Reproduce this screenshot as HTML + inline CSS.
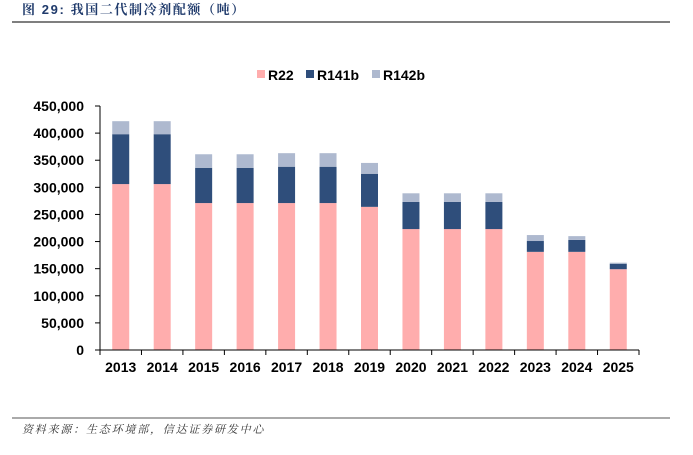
<!DOCTYPE html>
<html><head><meta charset="utf-8"><style>
body{margin:0;background:#fff;width:693px;height:450px;overflow:hidden;font-family:"Liberation Sans","Noto Sans CJK SC",sans-serif}
</style></head><body>
<svg width="693" height="450">
<text x="22" y="14" font-size="13" font-weight="bold" fill="#1f3a6b" letter-spacing="1.6" font-family="Liberation Sans,Noto Serif CJK SC,serif">图 29:  我国二代制冷剂配额（吨）</text>
<line x1="12" y1="22" x2="670" y2="22" stroke="#555" stroke-width="1.5"/>
<g font-size="14" font-weight="bold">
<rect x="257" y="70" width="8" height="8" fill="#ffadad"/><text x="268" y="80">R22</text>
<rect x="306" y="70" width="8" height="8" fill="#2f4e7b"/><text x="317" y="80">R141b</text>
<rect x="372" y="70" width="8" height="8" fill="#aeb9cf"/><text x="383" y="80">R142b</text>
</g>
<g id="plot"></g>
<line x1="12" y1="418" x2="670" y2="418" stroke="#555" stroke-width="1"/>
<text x="22" y="433" font-size="11" font-style="italic" fill="#333" letter-spacing="1.8" font-family="Liberation Serif,Noto Serif CJK SC,serif">资料来源：生态环境部，信达证券研发中心</text>
</svg>
<script>
const categories=["2013","2014","2015","2016","2017","2018","2019","2020","2021","2022","2023","2024","2025"];
const r22=[306000,306000,271000,271000,271000,271000,264000,223000,223000,223000,181000,181000,149000];
const r141b=[92000,92000,65000,65000,67000,67000,61000,50000,50000,50000,20000,22000,10000];
const r142b=[24000,24000,25000,25000,25000,25000,20000,16000,16000,16000,11000,7000,2000];
const yTicks=[0,50000,100000,150000,200000,250000,300000,350000,400000,450000];
const NS="http://www.w3.org/2000/svg";
const g=document.getElementById('plot');
const x0=100,x1=639,y0=350,y1=106,yMax=450000;
const band=(x1-x0)/categories.length;
function y(v){return y0-(v/yMax)*(y0-y1);}
function xc(i){return x0+band*(i+0.5);}
function mk(t,a){const e=document.createElementNS(NS,t);for(const k in a)e.setAttribute(k,a[k]);g.appendChild(e);return e;}
let e=mk('line',{x1:x0,y1:y0,x2:x0,y2:y1,stroke:'#000'});


yTicks.forEach(v=>{
 let t=mk('line',{x1:x0-5,x2:x0,y1:y(v),y2:y(v),stroke:'#000'});
 
 
 let l=mk('text',{x:x0-16,y:y(v)+5,'text-anchor':'end','font-size':14,'font-weight':'bold'});
 l.textContent=v.toLocaleString('en-US');
 
 
});
const series=[[r22,'#ffadad','r22'],[r141b,'#2f4e7b','r141b'],[r142b,'#aeb9cf','r142b']];
categories.forEach((c,i)=>{
 let base=0;
 series.forEach(([arr,col,nm])=>{
  const v=arr[i];
  let r=mk('rect',{x:xc(i)-8.5,width:17,y:y(base+v),height:y(base)-y(base+v),fill:col});
  
  
  base+=v;
 });
 let l=mk('text',{x:xc(i),y:y0+22,'text-anchor':'middle','font-size':14,'font-weight':'bold'});
 l.textContent=c;
 
 
});
for(let i=0;i<=categories.length;i++){
 let t=mk('line',{x1:x0+band*i,x2:x0+band*i,y1:y0,y2:y0+5,stroke:'#000'});
 
 
}
e=mk('line',{x1:x0,y1:y0,x2:x1,y2:y0,stroke:'#000'});


</script>
</body></html>
